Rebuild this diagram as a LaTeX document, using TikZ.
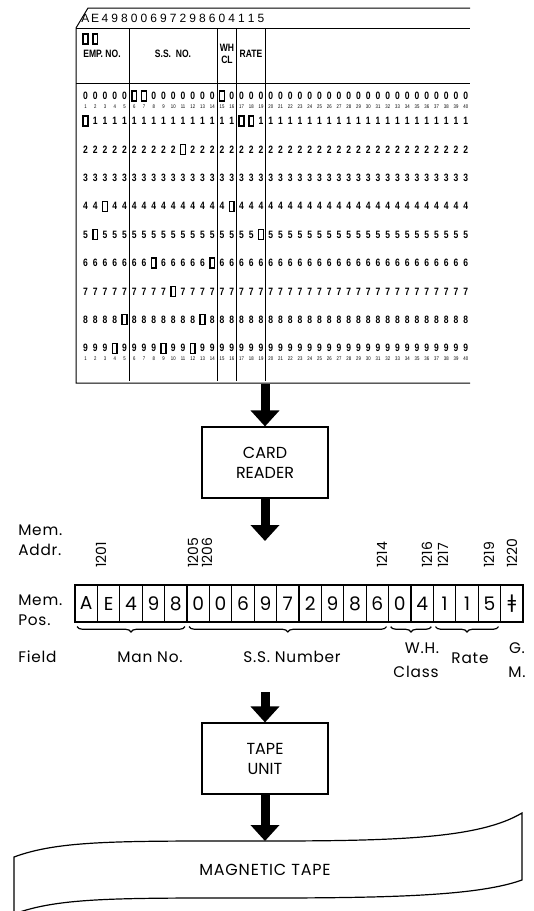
\documentclass[tikz,border=0pt]{standalone}
\usepackage{fontspec}
\setmainfont{Poppins}
\newfontfamily\cardfont{Liberation Sans}
\newfontfamily\cardnarrow[FakeStretch=0.8]{Liberation Sans}
\newfontfamily\gmfont{DejaVu Sans}
\usetikzlibrary{arrows.meta,positioning,decorations.pathreplacing}
\newcommand\punchrow[1]{\ifcase#1\or1\or5\or4\or9\or8\or0\or0\or6\or9\or7\or2\or9\or8\or6\or0\or4\or1\or1\or5\else-1\fi}

\begin{document}
\begin{tikzpicture}[
  x=0.75pt, y=-0.75pt,
  unit/.style={draw, line width=1.1pt, minimum width=94.5pt, minimum height=53pt,
               align=center, font=\fontsize{12}{15}\selectfont},
  cell/.style={draw, line width=0.9pt, minimum width=16.8pt, minimum height=27.75pt,
               inner sep=0pt, font=\fontsize{14}{14}\selectfont},
  flow/.style={-{Triangle[length=12pt,width=21pt]}, line width=6.75pt},
  cardline/.style={line width=0.75pt},
  hole/.style={draw, line width=1pt, minimum width=3.6pt, minimum height=7.5pt, inner sep=0pt},
  digit/.style={inner sep=0pt, font=\cardnarrow\bfseries\fontsize{8}{8}\selectfont},
  colnum/.style={inner sep=0pt, font=\cardnarrow\fontsize{4}{4}\selectfont},
  heading/.style={inner sep=0pt, align=center, font=\cardnarrow\bfseries\fontsize{8}{9.5}\selectfont},
  tag/.style={inner sep=0pt, font=\fontsize{11.5}{12}\selectfont\addfontfeature{LetterSpace=5}},
  addr/.style={inner sep=0pt, rotate=90, anchor=west, font=\fontsize{10.5}{11}\selectfont},
  fieldbrace/.style={decorate, decoration={brace, mirror, amplitude=4pt, raise=3pt}, line width=0.9pt}
]
\useasboundingbox (0,0) rectangle (534,911);

\draw[cardline] (470,8) -- (88,8) -- (76,28) -- (76,383) -- (470,383);
\draw[cardline] (76,28) -- (470,28) (76,83) -- (470,83);
\foreach \x in {129.4,217.1,236.6,265.9}
  \draw[cardline] (\x,28) -- (\x,381);

\foreach [count=\cc] \ch in {A,E,4,9,8,0,0,6,9,7,2,9,8,6,0,4,1,1,5}
  \node[inner sep=0pt, font=\cardfont\fontsize{9}{9}\selectfont] (print\cc) at ({85.5+9.75*(\cc-1)},18) {\ch};

\node[hole] (zoneA) at (85.5,39) {};
\node[hole] (zoneE) at (95.25,39) {};
\node[heading] (empno) at (102,54) {EMP.\ NO.};
\node[heading] (ssno) at (173,54) {S.S.\ \ NO.};
\node[heading] (whcl) at (227,54) {WH\\CL};
\node[heading] (hrate) at (251,54) {RATE};

\foreach \cc in {1,...,40}{
  \pgfmathsetmacro\xx{85.5+9.75*(\cc-1)}
  \node[colnum] (top\cc) at (\xx,107) {\cc};
  \node[colnum] (bot\cc) at (\xx,359) {\cc};
  \foreach \rr in {0,...,9}{
    \pgfmathsetmacro\yy{\rr==0 ? 96 : 121+28.4*(\rr-1)}
    \ifnum\punchrow{\cc}=\rr\relax
      \node[hole] (h\cc-\rr) at (\xx,\yy) {};
    \else
      \node[digit] (d\cc-\rr) at (\xx,\yy) {\rr};
    \fi
  }
}

\coordinate (cardfoot) at (265,384);
\node[unit] (reader) at (265,462.5) {CARD\\READER};
\coordinate (memtop) at (265,541);
\draw[flow] (cardfoot) -- (reader);
\draw[flow] (reader) -- (memtop);

\node[tag, anchor=west] (memA) at (18,530) {Mem.};
\node[tag, anchor=west] (addrA) at (18,550) {Addr.};
\node[tag, anchor=west] (memP) at (18,600) {Mem.};
\node[tag, anchor=west] (posP) at (18,620) {Pos.};
\node[tag, anchor=west] (field) at (18,657) {Field};

\foreach [count=\i] \ch in {A,E,4,9,8,0,0,6,9,7,2,9,8,6,0,4,1,1,5,{\gmfont ǂ}}
  \node[cell] (m\i) at ({75+22.4*(\i-0.5)},603.5) {\ch};

\foreach \a/\x in {1201/101,1205/193,1206/207,1214/382,1216/427,1217/443,1219/489,1220/512}
  \node[addr] (a\a) at (\x,568) {\a};

\draw[fieldbrace] ([xshift=2pt]m1.south west) -- ([xshift=-2pt]m5.south east);
\draw[fieldbrace] ([xshift=2pt]m6.south west) -- ([xshift=-2pt]m14.south east);
\draw[fieldbrace] ([xshift=2pt]m15.south west) -- ([xshift=-2pt]m16.south east);
\draw[fieldbrace] ([xshift=2pt]m17.south west) -- ([xshift=-2pt]m19.south east);

\node[tag] (manno) at (150,657) {Man No.};
\node[tag] (ssnum) at (292,657) {S.S. Number};
\node[tag] (wh) at (422,648) {W.H.};
\node[tag] (class) at (416,672) {Class};
\node[tag] (rate) at (470,658) {Rate};
\node[tag] (gm) at (517,648) {G.};
\node[tag] (mg) at (517,672) {M.};

\coordinate (fieldgap) at (265,692);
\node[unit] (tapeunit) at (265,758.5) {TAPE\\UNIT};
\coordinate (tapetop) at (265,841);
\draw[flow] (fieldgap) -- (tapeunit);
\draw[flow] (tapeunit) -- (tapetop);

\draw[line width=0.9pt] (14,857) .. controls (60,840) and (120,841) .. (267,841)
  .. controls (400,841) and (480,838) .. (522,813) -- (522,880)
  .. controls (480,895) and (400,898) .. (267,898)
  .. controls (120,898) and (60,897) .. (14,914) -- cycle;
\node[font=\fontsize{12}{12}\selectfont\addfontfeature{LetterSpace=5}] (tape) at (265,870) {MAGNETIC TAPE};
\end{tikzpicture}
\end{document}
